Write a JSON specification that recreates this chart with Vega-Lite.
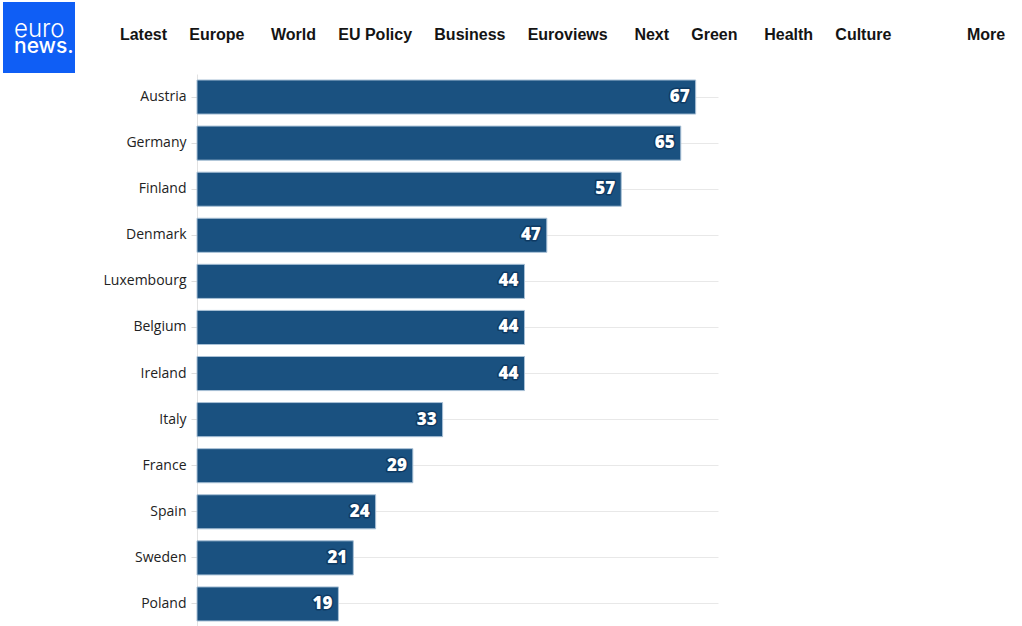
{
  "$schema": "https://vega.github.io/schema/vega-lite/v6.json",
  "background": "white",
  "padding": {"left": 3, "top": 2, "right": 0, "bottom": 0},
  "config": {"view": {"stroke": null}},
  "spacing": 0,
  "hconcat": [
    {
      "width": 72,
      "height": 71,
      "view": {"fill": "#0f5ef5", "stroke": null},
      "data": {"values": [{"w": "euro"}, {"w": "news."}]},
      "layer": [
        {
          "transform": [{"filter": "datum.w === 'euro'"}],
          "mark": {"type": "text", "align": "left", "baseline": "middle", "dx": -25, "dy": -8, "font": "Inter", "fontSize": 24, "fontWeight": 300, "color": "white"},
          "encoding": {"text": {"field": "w"}}
        },
        {
          "transform": [{"filter": "datum.w === 'news.'"}],
          "mark": {"type": "text", "align": "left", "baseline": "middle", "dx": -25, "dy": 9, "font": "Inter", "fontSize": 21, "fontWeight": 500, "color": "white"},
          "encoding": {"text": {"field": "w"}}
        }
      ]
    },
    {
      "spacing": 1,
      "vconcat": [
        {
          "width": 825,
          "height": 71,
          "data": {"values": [{"nav": "Latest\u00a0\u00a0\u00a0\u00a0\u00a0Europe\u00a0\u00a0\u00a0\u00a0\u00a0\u00a0World\u00a0\u00a0\u00a0\u00a0\u00a0EU Policy\u00a0\u00a0\u00a0\u00a0\u00a0Business\u00a0\u00a0\u00a0\u00a0\u00a0Euroviews\u00a0\u00a0\u00a0\u00a0\u00a0\u00a0Next\u00a0\u00a0\u00a0\u00a0\u00a0Green\u00a0\u00a0\u00a0\u00a0\u00a0\u00a0Health\u00a0\u00a0\u00a0\u00a0\u00a0Culture\u00a0\u00a0\u00a0\u00a0\u00a0\u00a0\u00a0\u00a0\u00a0\u00a0\u00a0\u00a0\u00a0\u00a0\u00a0\u00a0\u00a0More"}]},
          "mark": {"type": "text", "align": "center", "baseline": "middle", "dx": -47, "dy": -3, "font": "Liberation Sans", "fontSize": 16, "fontWeight": "bold", "color": "#141414"},
          "encoding": {"text": {"field": "nav"}}
        },
        {
          "width": 521,
          "height": 553,
          "data": {
            "values": [
              {"country": "Austria", "value": 67},
              {"country": "Germany", "value": 65},
              {"country": "Finland", "value": 57},
              {"country": "Denmark", "value": 47},
              {"country": "Luxembourg", "value": 44},
              {"country": "Belgium", "value": 44},
              {"country": "Ireland", "value": 44},
              {"country": "Italy", "value": 33},
              {"country": "France", "value": 29},
              {"country": "Spain", "value": 24},
              {"country": "Sweden", "value": 21},
              {"country": "Poland", "value": 19}
            ]
          },
          "encoding": {
            "y": {
              "field": "country",
              "type": "nominal",
              "sort": null,
              "scale": {"paddingInner": 0.26, "paddingOuter": 0.13},
              "axis": {
                "title": null,
                "labelFont": "Open Sans",
                "labelFontSize": 14,
                "labelColor": "#222222",
                "labelPadding": 5,
                "tickSize": 6,
                "tickColor": "#dddddd",
                "domainColor": "#e2e2e2",
                "grid": true,
                "gridColor": "#e8e8e8",
                "minExtent": 122,
                "maxExtent": 300
              }
            },
            "x": {
              "field": "value",
              "type": "quantitative",
              "scale": {"domain": [0, 70]},
              "axis": null
            }
          },
          "layer": [
            {
              "mark": {"type": "bar", "color": "#1a5180", "stroke": "#a9c1d6", "strokeWidth": 1}
            },
            {
              "mark": {"type": "text", "align": "right", "baseline": "middle", "dx": -6, "font": "Open Sans", "fontSize": 17, "fontWeight": 800, "fill": "#0e3a63", "stroke": "#0e3a63", "strokeWidth": 3, "strokeJoin": "round"},
              "encoding": {"text": {"field": "value"}}
            },
            {
              "mark": {"type": "text", "align": "right", "baseline": "middle", "dx": -6, "font": "Open Sans", "fontSize": 17, "fontWeight": 800, "color": "white"},
              "encoding": {"text": {"field": "value"}}
            }
          ]
        }
      ]
    }
  ]
}
